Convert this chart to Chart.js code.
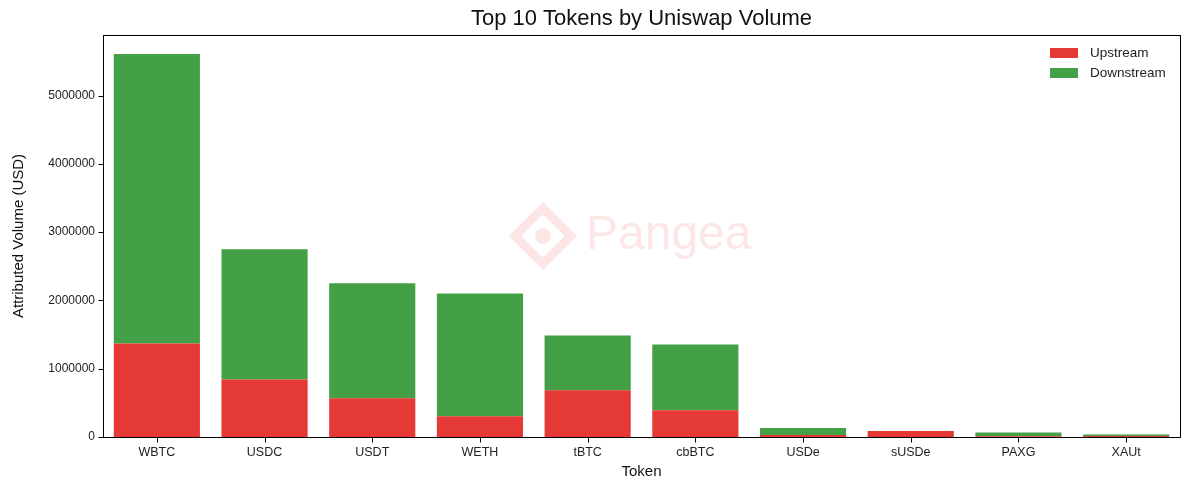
<!DOCTYPE html>
<html>
<head>
<meta charset="utf-8">
<script src="https://cdn.jsdelivr.net/npm/chart.js@4.4.1/dist/chart.umd.min.js"></script>
<style>
  html, body { margin: 0; padding: 0; background: #fff; }
  #wrap { width: 1189px; height: 490px; }
</style>
</head>
<body>
<div id="wrap"><canvas id="chart" width="1189" height="490"></canvas></div>
<script>
// données
const tokens = ['WBTC', 'USDC', 'USDT', 'WETH', 'tBTC', 'cbBTC', 'USDe', 'sUSDe', 'PAXG', 'XAUt'];
const upstream = [1371000, 843000, 569000, 305000, 686000, 393000, 30000, 88000, 10000, 13000];
const downstream = [4239000, 1907000, 1681000, 1795000, 802000, 963000, 102000, 0, 56000, 24000];
const yTicks = [0, 1000000, 2000000, 3000000, 4000000, 5000000];
const chartTitle = 'Top 10 Tokens by Uniswap Volume';

const FONT = '"Liberation Sans", Arial, sans-serif';
const RED = '#e53935';
const GREEN = '#43a047';

// Filigrane, titre, cadre, graduations et légende dessinés à la main
const extras = {
    id: 'extras',
    beforeDatasetsDraw(chart) {
        const { ctx } = chart;
        ctx.save();
        const cx = 543, cy = 236;
        ctx.fillStyle = 'rgba(229, 57, 53, 0.12)';
        ctx.strokeStyle = 'rgba(229, 57, 53, 0.12)';
        // logo losange
        ctx.lineWidth = 9;
        ctx.beginPath();
        ctx.moveTo(cx, cy - 28);
        ctx.lineTo(cx + 28, cy);
        ctx.lineTo(cx, cy + 28);
        ctx.lineTo(cx - 28, cy);
        ctx.closePath();
        ctx.stroke();
        ctx.beginPath();
        ctx.arc(cx, cy, 8, 0, Math.PI * 2);
        ctx.fill();
        ctx.font = '48px ' + FONT;
        ctx.textBaseline = 'middle';
        ctx.fillText('Pangea', 586, cy);
        ctx.restore();
    },
    afterDraw(chart) {
        const { ctx, chartArea: a, scales } = chart;
        ctx.save();
        // titre centré sur la zone du graphique
        ctx.fillStyle = '#111';
        ctx.font = '22px ' + FONT;
        ctx.textAlign = 'center';
        ctx.textBaseline = 'middle';
        ctx.fillText(chartTitle, (a.left + a.right) / 2, 19);
        ctx.textAlign = 'left';

        // cadre
        ctx.strokeStyle = '#000';
        ctx.lineWidth = 1;
        const L = Math.round(a.left) + 0.5, T = Math.round(a.top) + 0.5;
        const R = Math.round(a.right) + 0.5, B = Math.round(a.bottom) + 0.5;
        ctx.strokeRect(L, T, R - L, B - T);

        // graduations
        ctx.beginPath();
        yTicks.forEach(v => {
            const y = Math.round(scales.y.getPixelForValue(v)) + 0.5;
            ctx.moveTo(L - 5, y);
            ctx.lineTo(L, y);
        });
        tokens.forEach((t, i) => {
            const x = Math.round(scales.x.getPixelForValue(i)) + 0.5;
            ctx.moveTo(x, B);
            ctx.lineTo(x, B + 5);
        });
        ctx.stroke();

        // légende en haut à droite
        ctx.font = '13.5px ' + FONT;
        ctx.textBaseline = 'middle';
        chart.data.datasets.forEach((ds, i) => {
            const y = 53 + i * 20;
            ctx.fillStyle = ds.backgroundColor;
            ctx.fillRect(1050, y - 5, 28, 10);
            ctx.fillStyle = '#222';
            ctx.fillText(ds.label, 1090, y);
        });
        ctx.restore();
    }
};

new Chart(document.getElementById('chart').getContext('2d'), {
    type: 'bar',
    data: {
        labels: tokens,
        datasets: [
            { label: 'Upstream', data: upstream, backgroundColor: RED },
            { label: 'Downstream', data: downstream, backgroundColor: GREEN }
        ]
    },
    options: {
        responsive: false,
        animation: false,
        layout: { padding: { left: 0, right: 9, top: 35, bottom: 9 } },
        datasets: { bar: { categoryPercentage: 0.8, barPercentage: 1.0 } },
        plugins: {
            legend: { display: false },
            tooltip: { enabled: false },
            title: { display: false }
        },
        scales: {
            x: {
                stacked: true,
                grid: { display: false },
                border: { display: false },
                ticks: { color: '#222', font: { family: FONT, size: 12.5 }, padding: 0, maxRotation: 0 },
                title: { display: true, text: 'Token', color: '#111', font: { family: FONT, size: 15 }, padding: { top: 2, bottom: 0 } },
                afterFit(scale) { scale.height = 44; }
            },
            y: {
                stacked: true,
                min: 0,
                max: 5887000,
                grid: { display: false },
                border: { display: false },
                ticks: {
                    color: '#222',
                    font: { family: FONT, size: 12 },
                    padding: 0,
                    callback: v => String(v)
                },
                afterBuildTicks(scale) { scale.ticks = yTicks.map(v => ({ value: v })); },
                title: { display: true, text: 'Attributed Volume (USD)', color: '#111', font: { family: FONT, size: 15 }, padding: { top: 10, bottom: 4 } },
                afterFit(scale) { scale.width = 103; }
            }
        }
    },
    plugins: [extras]
});
</script>
</body>
</html>
